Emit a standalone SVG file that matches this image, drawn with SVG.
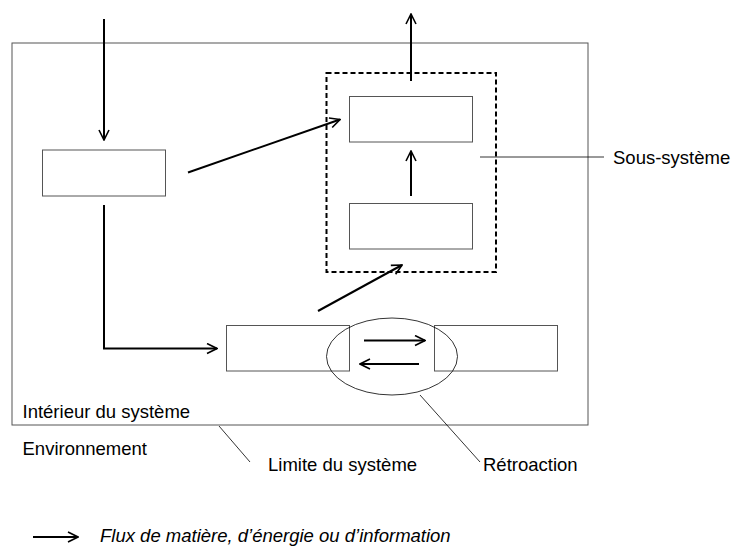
<svg xmlns="http://www.w3.org/2000/svg" width="734" height="546" viewBox="0 0 734 546">
<defs>
<marker id="ah" viewBox="0 0 12 12" refX="11" refY="6" markerWidth="6" markerHeight="6" markerUnits="strokeWidth" orient="auto">
<path d="M1,1 L11,6 L1,11" fill="none" stroke="#000" stroke-width="1.6"/>
</marker>
<style>
.box{fill:#fff;stroke:#555;stroke-width:1}
.flow{fill:none;stroke:#000;stroke-width:2;marker-end:url(#ah)}
.lead{fill:none;stroke:#000;stroke-width:0.8}
text{font-family:"Liberation Sans",Arial,sans-serif;font-size:18.5px;fill:#000}
</style>
</defs>
<rect width="734" height="546" fill="#fff"/>
<g id="system">
<rect x="12" y="43" width="576" height="382" fill="none" stroke="#555" stroke-width="1"/>
<text x="22.5" y="418">Intérieur du système</text>
</g>
<g id="subsystem">
<rect x="326.5" y="73" width="169.5" height="199" fill="none" stroke="#000" stroke-width="2" stroke-dasharray="5,3"/>
</g>
<g id="box-input"><rect class="box" x="42.5" y="150" width="123" height="46"/></g>
<g id="box-top"><rect class="box" x="349.5" y="96.5" width="123" height="45.5"/></g>
<g id="box-bottom"><rect class="box" x="349.5" y="203.5" width="123" height="45.5"/></g>
<g id="box-left"><rect class="box" x="226.5" y="325.5" width="123" height="45.5"/></g>
<g id="box-right"><rect class="box" x="434.5" y="325.5" width="123" height="45.5"/></g>
<g id="feedback"><ellipse cx="392" cy="356.5" rx="65.5" ry="38.5" fill="none" stroke="#000" stroke-width="0.8"/></g>
<g id="connectors">
<line class="flow" x1="104" y1="19" x2="104" y2="140"/>
<line class="flow" x1="411" y1="81" x2="411" y2="14"/>
<line class="flow" x1="188" y1="172.5" x2="340" y2="119.5"/>
<line class="flow" x1="411" y1="196" x2="411" y2="151"/>
<line class="flow" x1="318" y1="311" x2="402" y2="265"/>
<polyline class="flow" points="104,205 104,348.5 217,348.5"/>
<line class="flow" x1="364" y1="340.5" x2="425" y2="340.5"/>
<line class="flow" x1="419" y1="364" x2="360" y2="364"/>
<line class="lead" x1="480" y1="157" x2="604" y2="157"/>
<line class="lead" x1="219" y1="426" x2="250" y2="462"/>
<line class="lead" x1="420" y1="395" x2="480" y2="462"/>
</g>
<g id="labels">
<text x="613" y="164">Sous-système</text>
<text x="22.5" y="455">Environnement</text>
<text x="268" y="471">Limite du système</text>
<text x="483" y="471">Rétroaction</text>
</g>
<g id="legend">
<line class="flow" x1="33" y1="537" x2="78" y2="537"/>
<text x="100" y="542" font-style="italic">Flux de matière, d’énergie ou d’information</text>
</g>
</svg>
